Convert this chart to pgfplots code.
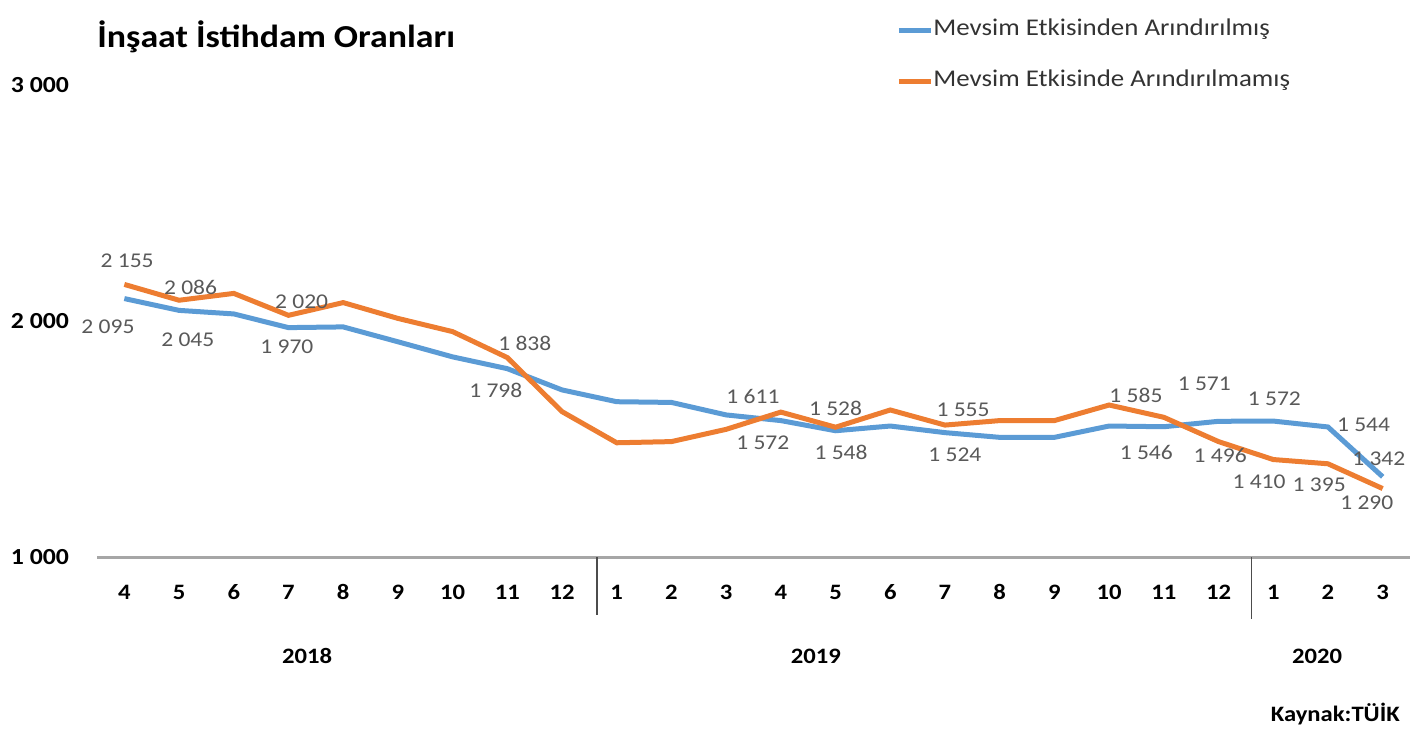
\documentclass[border=0pt]{standalone}
\usepackage{pgfplots}
\pgfplotsset{compat=1.18}
\usepackage{fontspec}
\setmainfont{Carlito}[FakeStretch=1.12]
\definecolor{sablue}{HTML}{5B9BD5}
\definecolor{nsorange}{HTML}{ED7D31}
\definecolor{lblgray}{HTML}{595959}
\definecolor{axgray}{HTML}{A6A6A6}
\begin{document}
\begin{tikzpicture}
\begin{axis}[name=ax, scale only axis, width=656.5pt, height=236pt,
  xmin=-0.5, xmax=23.5, ymin=1000, ymax=3000,
  axis x line*=bottom, axis y line*=left,
  x axis line style={draw=axgray, line width=1.5pt},
  y axis line style={draw=none},
  major tick length=0pt,
  xtick={0,...,23},
  xticklabels={4,5,6,7,8,9,10,11,12,1,2,3,4,5,6,7,8,9,10,11,12,1,2,3},
  ytick={1000,2000,3000},
  yticklabels={1 000,2 000,3 000},
  xticklabel style={font=\fontsize{11}{13}\selectfont\bfseries, anchor=center, yshift=-17.5pt},
  yticklabel style={font=\fontsize{11.5}{14}\selectfont\bfseries, anchor=center, xshift=-28.5pt},
  clip=false,
  legend style={at={(0.6085,1.0625)}, anchor=west, draw=none, fill=none, inner sep=0pt,
    row sep=15pt, font=\fontsize{12}{14}\selectfont, text=black!80,
    nodes={inner sep=0pt, text height=8pt, text depth=2.5pt}},
  legend cell align=left,
  legend image code/.code={\draw[#1, line width=2.5pt] (0pt,0pt) -- (16pt,0pt);},
]
\addplot[sablue, line width=2.5pt] coordinates {
(0,2095) (1,2045) (2,2030) (3,1972) (4,1975) (5,1912) (6,1848) (7,1798)
(8,1708) (9,1658) (10,1655) (11,1602) (12,1578) (13,1535) (14,1555) (15,1527)
(16,1507) (17,1507) (18,1555) (19,1552) (20,1575) (21,1576) (22,1551) (23,1340)};
\addlegendentry{Mevsim Etkisinden Arındırılmış}
\addplot[nsorange, line width=2.5pt] coordinates {
(0,2155) (1,2088) (2,2117) (3,2024) (4,2078) (5,2011) (6,1955) (7,1845)
(8,1616) (9,1484) (10,1489) (11,1541) (12,1614) (13,1550) (14,1623) (15,1559)
(16,1578) (17,1578) (18,1644) (19,1592) (20,1489) (21,1413) (22,1395) (23,1290)};
\addlegendentry{Mevsim Etkisinde Arındırılmamış}

\tikzset{lbl/.style={font=\fontsize{10.5}{13}\selectfont, text=lblgray, inner sep=0pt}}
\node[lbl] at (axis cs:0.05,2254) {2 155};
\node[lbl] at (axis cs:1.21,2144) {2 086};
\node[lbl] at (axis cs:3.24,2080) {2 020};
\node[lbl] at (axis cs:7.32,1907) {1 838};
\node[lbl] at (axis cs:-0.30,1975) {2 095};
\node[lbl] at (axis cs:1.16,1919) {2 045};
\node[lbl] at (axis cs:2.97,1890) {1 970};
\node[lbl] at (axis cs:6.79,1708) {1 798};
\node[lbl] at (axis cs:11.49,1682) {1 611};
\node[lbl] at (axis cs:11.67,1483) {1 572};
\node[lbl] at (axis cs:13.0,1631) {1 528};
\node[lbl] at (axis cs:13.10,1445) {1 548};
\node[lbl] at (axis cs:15.33,1623) {1 555};
\node[lbl] at (axis cs:15.18,1432) {1 524};
\node[lbl] at (axis cs:18.49,1686) {1 585};
\node[lbl] at (axis cs:18.68,1441) {1 546};
\node[lbl] at (axis cs:19.74,1733) {1 571};
\node[lbl] at (axis cs:20.03,1432) {1 496};
\node[lbl] at (axis cs:21.02,1669) {1 572};
\node[lbl] at (axis cs:20.74,1318) {1 410};
\node[lbl] at (axis cs:21.84,1305) {1 395};
\node[lbl] at (axis cs:22.65,1559) {1 544};
\node[lbl] at (axis cs:22.93,1415) {1 342};
\node[lbl] at (axis cs:22.71,1229) {1 290};

\node[anchor=west, inner sep=0pt, font=\fontsize{16}{19}\selectfont\bfseries] at (axis cs:-0.5,3205) {İnşaat İstihdam Oranları};
\node[font=\fontsize{11}{13}\selectfont\bfseries] at (axis cs:3.34,580) {2018};
\node[font=\fontsize{11}{13}\selectfont\bfseries] at (axis cs:12.64,580) {2019};
\node[font=\fontsize{11}{13}\selectfont\bfseries] at (axis cs:21.8,580) {2020};
\node[anchor=east, inner sep=0pt, font=\fontsize{11}{13}\selectfont\bfseries] at (axis cs:23.32,335) {Kaynak:TÜİK};
\draw[black!70, line width=0.6pt] (axis cs:8.64,1000) -- (axis cs:8.64,754);
\draw[black!70, line width=0.6pt] (axis cs:20.6,1000) -- (axis cs:20.6,737);
\end{axis}
\pgfresetboundingbox
\path ([shift={(-48.5pt,-88.5pt)}]ax.south west) rectangle ([shift={(660.5pt,278.5pt)}]ax.south west);
\end{tikzpicture}
\end{document}
